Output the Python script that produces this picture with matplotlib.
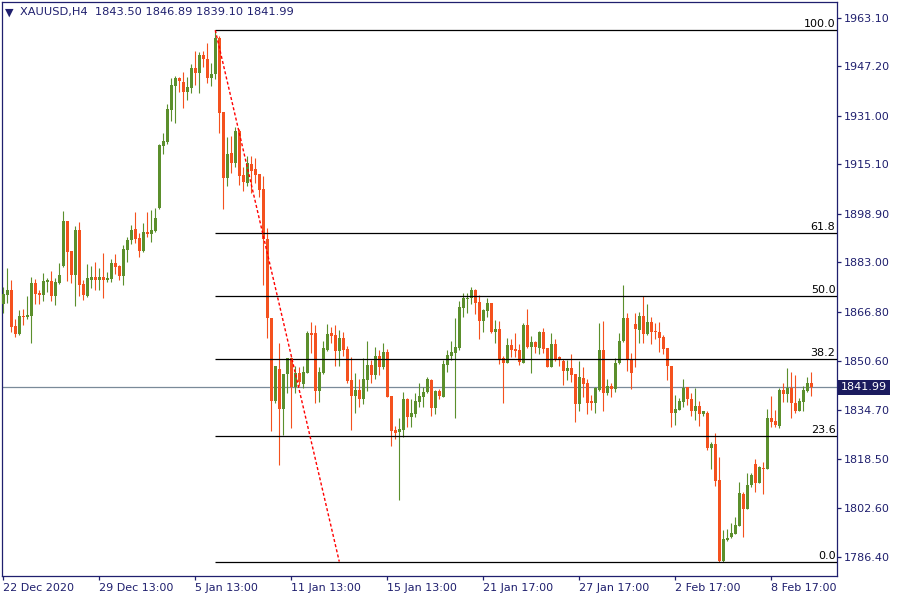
import matplotlib
matplotlib.use("Agg")
import matplotlib.pyplot as plt
import matplotlib.transforms as mtransforms
import numpy as np

# ---------------- data (XAUUSD H4 candles) ----------------
opens = [1869.3, 1872.3, 1873.9, 1862.1, 1859.5, 1865.5, 1865.2, 1865.5, 1876.1, 1873.1,
         1872.3, 1876.7, 1876.9, 1872.0, 1876.1, 1881.8, 1896.6, 1886.7, 1878.9, 1893.6,
         1875.9, 1872.0, 1877.2, 1878.1, 1877.2, 1878.1, 1877.2, 1877.6, 1882.7, 1881.8,
         1878.5, 1887.1, 1890.3, 1893.8, 1890.9, 1886.8, 1893.1, 1892.3, 1893.4, 1900.9,
         1921.1, 1922.5, 1932.9, 1940.9, 1943.4, 1942.1, 1938.8, 1940.3, 1946.7, 1945.2,
         1951.0, 1949.5, 1943.5, 1944.6, 1956.5, 1932.4, 1910.8, 1918.9, 1915.7, 1926.0,
         1911.6, 1909.1, 1915.2, 1913.6, 1912.0, 1907.0, 1890.6, 1864.9, 1837.7, 1848.0,
         1835.0, 1846.3, 1851.6, 1842.0, 1846.8, 1843.1, 1846.8, 1859.7, 1859.7, 1840.9,
         1846.8, 1854.3, 1859.7, 1859.2, 1854.0, 1858.3, 1854.6, 1844.4, 1839.2, 1841.2,
         1838.3, 1844.4, 1849.4, 1846.1, 1852.3, 1848.8, 1853.5, 1839.2, 1828.0, 1827.4,
         1828.0, 1838.2, 1832.4, 1833.4, 1837.3, 1839.0, 1840.4, 1844.4, 1835.4, 1840.8,
         1839.0, 1849.4, 1852.3, 1853.4, 1854.8, 1867.9, 1870.9, 1871.2, 1873.9, 1869.9,
         1863.9, 1867.2, 1869.8, 1860.3, 1861.0, 1851.5, 1850.1, 1855.9, 1854.6, 1854.3,
         1850.1, 1862.5, 1855.4, 1856.9, 1854.8, 1860.3, 1854.8, 1848.8, 1856.2, 1851.8,
         1850.5, 1847.5, 1848.5, 1846.3, 1836.6, 1845.2, 1843.6, 1837.3, 1837.0, 1841.2,
         1854.3, 1840.3, 1842.5, 1841.6, 1849.9, 1857.2, 1864.7, 1851.2, 1862.8, 1860.8,
         1865.4, 1859.5, 1863.3, 1860.5, 1860.3, 1858.6, 1854.8, 1849.0, 1833.7, 1834.6,
         1837.3, 1842.0, 1838.1, 1834.4, 1835.9, 1833.3, 1833.5, 1822.0, 1823.5, 1811.6,
         1785.2, 1792.0, 1792.9, 1793.9, 1796.6, 1807.1, 1802.1, 1810.0, 1816.9, 1810.6,
         1815.5, 1815.1, 1831.9, 1831.1, 1829.5, 1841.2, 1839.7, 1841.7, 1837.0, 1834.4,
         1837.3, 1840.9, 1843.50]
highs = [1875.0, 1881.0, 1877.2, 1864.3, 1867.4, 1867.6, 1872.0, 1878.1, 1877.4, 1873.9,
         1879.4, 1877.7, 1880.2, 1877.8, 1882.7, 1899.8, 1896.6, 1886.7, 1894.9, 1896.2,
         1877.2, 1882.5, 1881.8, 1883.2, 1881.1, 1886.0, 1879.8, 1884.0, 1885.7, 1882.1,
         1888.7, 1891.2, 1895.2, 1899.5, 1892.5, 1896.0, 1899.5, 1900.2, 1900.8, 1921.8,
         1925.5, 1934.9, 1943.3, 1944.1, 1943.9, 1945.5, 1943.9, 1948.0, 1952.2, 1952.0,
         1952.2, 1955.0, 1948.5, 1959.1, 1957.2, 1932.4, 1924.2, 1924.4, 1927.5, 1926.6,
         1914.4, 1917.9, 1917.9, 1917.1, 1912.0, 1911.3, 1894.1, 1864.9, 1849.1, 1856.5,
         1846.4, 1851.6, 1852.1, 1849.1, 1848.8, 1849.1, 1860.5, 1863.4, 1862.3, 1848.8,
         1857.2, 1862.8, 1861.9, 1862.5, 1860.8, 1860.1, 1855.7, 1851.9, 1846.8, 1844.9,
         1851.5, 1857.2, 1851.0, 1855.4, 1854.1, 1856.6, 1854.5, 1839.2, 1829.3, 1832.1,
         1840.6, 1838.5, 1838.2, 1840.1, 1843.3, 1842.0, 1845.5, 1844.8, 1841.2, 1841.4,
         1851.0, 1854.3, 1857.2, 1864.7, 1870.3, 1872.9, 1872.9, 1874.8, 1874.3, 1872.3,
         1867.6, 1871.2, 1869.8, 1864.1, 1863.8, 1852.3, 1858.1, 1857.8, 1859.7, 1856.2,
         1863.2, 1867.6, 1858.9, 1857.2, 1860.5, 1861.6, 1854.8, 1859.7, 1857.8, 1852.3,
         1851.2, 1851.0, 1853.0, 1846.3, 1850.5, 1848.6, 1844.7, 1839.5, 1842.0, 1863.2,
         1863.8, 1844.8, 1843.6, 1851.5, 1859.7, 1875.6, 1866.3, 1853.4, 1866.5, 1866.8,
         1872.0, 1869.4, 1865.2, 1863.0, 1863.6, 1859.2, 1854.8, 1849.0, 1839.5, 1838.4,
         1844.9, 1842.2, 1840.1, 1841.7, 1837.7, 1834.4, 1834.4, 1824.2, 1827.2, 1819.1,
         1795.3, 1795.5, 1797.4, 1799.6, 1811.1, 1807.8, 1813.8, 1813.8, 1818.5, 1816.2,
         1817.7, 1834.8, 1839.2, 1834.6, 1841.7, 1843.3, 1848.5, 1847.2, 1846.1, 1838.4,
         1842.5, 1845.5, 1846.89]
lows = [1866.3, 1869.6, 1860.3, 1858.6, 1859.2, 1862.5, 1864.3, 1856.7, 1869.3, 1869.3,
        1870.4, 1873.4, 1870.4, 1869.0, 1875.9, 1881.4, 1877.0, 1876.1, 1868.7, 1872.0,
        1870.7, 1871.7, 1874.6, 1873.9, 1873.9, 1871.3, 1876.6, 1876.7, 1879.2, 1877.2,
        1875.7, 1883.1, 1889.0, 1889.2, 1884.9, 1886.5, 1891.4, 1889.7, 1893.0, 1900.5,
        1918.5, 1921.8, 1929.4, 1928.8, 1938.9, 1933.7, 1936.2, 1938.4, 1941.0, 1938.6,
        1947.1, 1941.7, 1940.8, 1943.0, 1925.5, 1900.6, 1908.1, 1912.4, 1914.4, 1908.3,
        1906.5, 1908.0, 1905.6, 1908.9, 1904.5, 1875.6, 1858.1, 1827.8, 1837.0, 1816.6,
        1826.4, 1840.1, 1828.6, 1840.3, 1842.6, 1841.7, 1846.8, 1853.4, 1837.0, 1837.3,
        1846.4, 1854.0, 1856.7, 1849.1, 1849.1, 1852.4, 1843.3, 1828.0, 1833.7, 1835.7,
        1836.6, 1840.9, 1843.4, 1844.8, 1846.1, 1848.0, 1838.8, 1822.8, 1825.0, 1805.1,
        1825.9, 1829.1, 1829.1, 1832.2, 1835.7, 1835.7, 1840.3, 1832.6, 1833.2, 1838.1,
        1839.0, 1847.2, 1851.0, 1832.1, 1854.3, 1865.2, 1866.3, 1869.4, 1866.0, 1857.9,
        1860.3, 1865.0, 1859.7, 1856.7, 1849.7, 1837.0, 1850.1, 1852.1, 1852.1, 1849.4,
        1849.9, 1854.8, 1846.8, 1853.2, 1853.0, 1853.2, 1848.6, 1848.6, 1850.5, 1849.1,
        1842.8, 1844.4, 1843.9, 1830.8, 1834.4, 1838.8, 1833.3, 1834.6, 1833.7, 1840.9,
        1834.4, 1839.5, 1838.8, 1840.6, 1849.7, 1857.0, 1847.4, 1841.4, 1848.8, 1856.5,
        1856.7, 1859.2, 1856.2, 1857.8, 1853.7, 1853.0, 1844.4, 1829.1, 1829.7, 1834.6,
        1835.7, 1836.2, 1832.6, 1831.3, 1829.4, 1832.6, 1821.5, 1815.3, 1809.7, 1784.9,
        1784.6, 1791.7, 1792.7, 1793.9, 1796.6, 1793.1, 1802.1, 1809.5, 1807.8, 1810.6,
        1807.1, 1815.1, 1829.1, 1829.1, 1828.6, 1837.3, 1837.3, 1831.9, 1833.5, 1834.1,
        1834.1, 1840.6, 1839.10]
closes = [1872.6, 1873.9, 1861.9, 1859.5, 1865.4, 1865.1, 1865.7, 1876.3, 1872.6, 1872.3,
          1876.9, 1877.0, 1872.1, 1876.7, 1878.9, 1896.6, 1886.5, 1878.9, 1893.6, 1875.6,
          1872.3, 1877.9, 1878.1, 1877.2, 1878.1, 1877.2, 1877.9, 1882.7, 1881.6, 1878.5,
          1887.4, 1890.3, 1893.6, 1890.6, 1886.8, 1893.1, 1892.3, 1893.6, 1897.6, 1921.5,
          1922.8, 1933.4, 1941.1, 1943.3, 1942.5, 1938.9, 1940.5, 1946.7, 1945.2, 1951.0,
          1949.8, 1943.5, 1944.7, 1956.5, 1932.1, 1910.8, 1918.5, 1915.7, 1926.0, 1911.3,
          1909.4, 1915.4, 1913.1, 1911.6, 1906.7, 1890.5, 1864.6, 1837.7, 1849.1, 1835.0,
          1846.4, 1851.6, 1842.0, 1846.6, 1843.9, 1847.0, 1859.9, 1859.2, 1840.9, 1847.1,
          1854.8, 1859.5, 1859.0, 1854.0, 1858.3, 1854.3, 1844.2, 1839.2, 1841.2, 1838.3,
          1844.8, 1849.4, 1846.1, 1852.3, 1848.8, 1853.5, 1839.0, 1827.8, 1827.2, 1828.4,
          1838.2, 1832.4, 1833.6, 1837.6, 1839.2, 1840.5, 1844.8, 1835.4, 1840.8, 1839.3,
          1849.7, 1852.6, 1853.6, 1855.1, 1868.3, 1871.2, 1871.4, 1873.9, 1869.8, 1863.9,
          1867.4, 1869.8, 1860.3, 1861.0, 1851.2, 1850.1, 1855.9, 1854.3, 1853.9, 1850.4,
          1862.5, 1855.4, 1856.9, 1855.4, 1860.3, 1854.6, 1848.8, 1856.2, 1851.2, 1851.0,
          1847.5, 1848.5, 1846.1, 1836.6, 1845.3, 1843.1, 1837.0, 1837.0, 1841.7, 1854.3,
          1840.3, 1842.5, 1841.6, 1850.1, 1857.2, 1864.7, 1851.0, 1846.8, 1861.0, 1865.4,
          1859.5, 1863.3, 1860.1, 1860.0, 1858.1, 1854.6, 1849.0, 1833.7, 1834.8, 1837.7,
          1841.7, 1838.1, 1834.4, 1835.9, 1833.3, 1834.1, 1822.0, 1823.5, 1811.4, 1785.2,
          1792.3, 1792.7, 1794.4, 1796.9, 1807.5, 1802.1, 1810.0, 1813.3, 1810.6, 1815.8,
          1815.1, 1831.9, 1830.8, 1829.7, 1841.2, 1839.7, 1841.7, 1836.8, 1834.4, 1837.5,
          1841.2, 1843.3, 1841.99]

price_ticks = [1963.10, 1947.20, 1931.00, 1915.10, 1898.90, 1883.00, 1866.80,
               1850.60, 1834.70, 1818.50, 1802.60, 1786.40]
time_tick_bars = [0, 24, 48, 72, 96, 120, 144, 168, 192]
time_tick_labels = ["22 Dec 2020", "29 Dec 13:00", "5 Jan 13:00", "11 Jan 13:00",
                    "15 Jan 13:00", "21 Jan 17:00", "27 Jan 17:00", "2 Feb 17:00",
                    "8 Feb 17:00"]

fib_high = 1959.1          # anchor 1 (bar 53)
fib_low = 1784.9           # anchor 2 level
fib_start_bar = 53
fib_end_bar = 84
fib_levels = [0.0, 23.6, 38.2, 50.0, 61.8, 100.0]
fib_labels = ["0.0", "23.6", "38.2", "50.0", "61.8", "100.0"]

symbol_title = "XAUUSD,H4  1843.50 1846.89 1839.10 1841.99"
last_price = 1841.99

# ---------------- style ----------------
UP = "#5b8f2c"
DOWN = "#f4511e"
NAVY = "#1f1f6e"
plt.rcParams["font.family"] = ["DejaVu Sans"]

fig = plt.figure(figsize=(9, 6), dpi=100)
fig.patch.set_facecolor("white")
W, H = 900.0, 600.0
left_px, right_px, top_px, bot_px = 2, 837, 2, 576
ax = fig.add_axes([left_px / W, 1 - bot_px / H, (right_px - left_px) / W, (bot_px - top_px) / H])

n = len(opens)
x = np.arange(n)
o = np.array(opens); h = np.array(highs); l = np.array(lows); c = np.array(closes)
up = c >= o
cols = np.where(up, UP, DOWN)

# wicks
ax.vlines(x, l, h, colors=cols, linewidth=0.8, zorder=3)
# bodies
body_bottom = np.minimum(o, c)
body_h = np.maximum(np.abs(c - o), 0.4)
ax.bar(x, body_h, bottom=body_bottom, width=0.82, color=cols, linewidth=0, zorder=4)

xmin, xmax = -0.33, 208.45
ax.set_xlim(xmin, xmax)
ax.set_ylim(1780.17, 1968.34)

# current price line
ax.axhline(last_price, color="#7a8a99", linewidth=0.9, zorder=2)

# fibonacci levels
rng = fib_high - fib_low
for lev, lab in zip(fib_levels, fib_labels):
    p = fib_low + rng * lev / 100.0
    ax.hlines(p, fib_start_bar, xmax, colors="black", linewidth=0.9, zorder=5)
    ax.text(xmax - 0.4, p + 0.35, lab, ha="right", va="bottom", fontsize=8,
            color="black", zorder=6)
# fib trend line
ax.plot([fib_start_bar, fib_end_bar], [fib_high, fib_low], color="#ff0000",
        linewidth=1.0, linestyle=(0, (2.2, 1.6)), zorder=5)

# axes styling
for s in ax.spines.values():
    s.set_color(NAVY)
    s.set_linewidth(0.9)
ax.yaxis.tick_right()
ax.set_yticks(price_ticks)
ax.set_yticklabels([f"{v:.2f}" for v in price_ticks])
ax.tick_params(axis="y", direction="out", length=3, width=0.9, colors=NAVY,
               labelsize=8, pad=2, labelcolor=NAVY)
ax.set_xticks(time_tick_bars)
ax.set_xticklabels(time_tick_labels, ha="left")
ax.tick_params(axis="x", direction="out", length=3, width=0.9, colors=NAVY,
               labelsize=8, pad=2, labelcolor=NAVY)
for lbl in ax.get_xticklabels():
    lbl.set_horizontalalignment("left")

# last price box on the price scale
trans = mtransforms.blended_transform_factory(ax.transAxes, ax.transData)
ax.text(1.0045, last_price, f"{last_price:.2f}", transform=trans, ha="left", va="center",
        fontsize=8, color="white", zorder=10, clip_on=False,
        bbox=dict(boxstyle="square,pad=0.25", fc="#1b1b5e", ec="none"))

# title
ax.text(0.0035, 0.990, "\u25bc", transform=ax.transAxes, ha="left", va="top",
        fontsize=8, color=NAVY)
ax.text(0.021, 0.991, symbol_title, transform=ax.transAxes, ha="left", va="top",
        fontsize=8.2, color=NAVY)

fig.savefig("out.png", dpi=100, facecolor="white")
